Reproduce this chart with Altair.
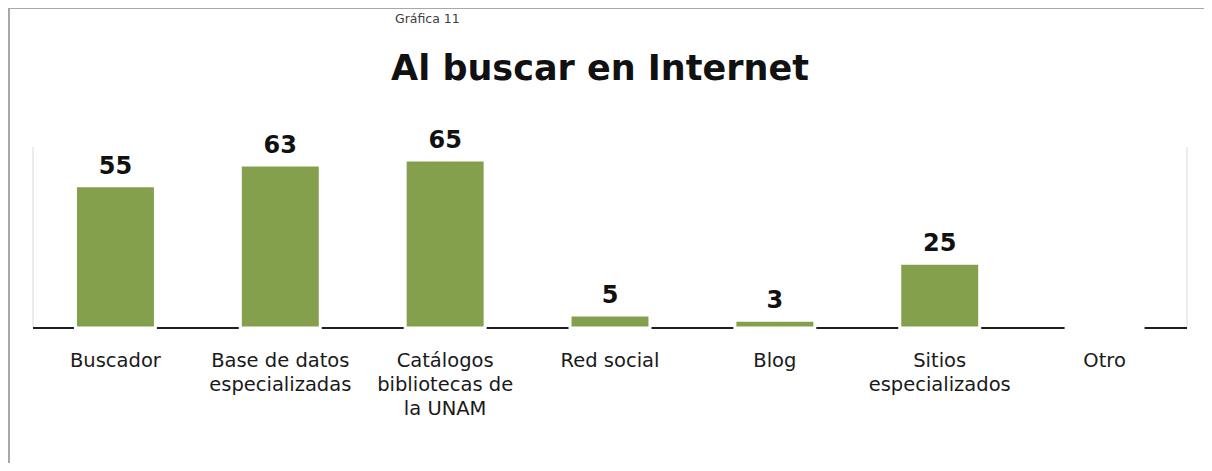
import altair as alt
import pandas as pd

categories = ["Buscador", "Base de datos\nespecializadas", "Catálogos\nbibliotecas de\nla UNAM",
              "Red social", "Blog", "Sitios\nespecializados", "Otro"]
values = [55, 63, 65, 5, 3, 25, 0]
value_labels = ["55", "63", "65", "5", "3", "25", ""]

df = pd.DataFrame({"cat": categories, "val": values, "lab": value_labels})

FONT = "DejaVu Sans"
W, H = 1154, 181

xenc = alt.X("cat:N", sort=None,
             scale=alt.Scale(paddingInner=0.515, paddingOuter=0.2575),
             axis=alt.Axis(title=None, labelAngle=0, ticks=False, domain=False,
                           labelFont=FONT, labelFontSize=19.5, labelColor="#1a1a1a",
                           labelLineHeight=24, labelPadding=23, labelBaseline="top",
                           labelExpr="split(datum.label, '\\n')"))
yenc = alt.Y("val:Q", scale=alt.Scale(domain=[0, 70]), axis=None)

base = alt.Chart(df)

one = alt.Chart(pd.DataFrame({"k": [0]}))

side_lines = alt.Chart(pd.DataFrame({"xp": [0, W]})).mark_rule(color="#d9d9d9", strokeWidth=1).encode(
    x=alt.X("xp:Q", scale=None), y=alt.value(0), y2=alt.value(H))

baseline = one.mark_rule(color="#1f1f1f", strokeWidth=2).encode(
    x=alt.value(0), x2=alt.value(W), y=alt.value(H))

bars = base.mark_bar(color="#84A04C", stroke="white", strokeWidth=3).encode(x=xenc, y=yenc)

labels = base.mark_text(font=FONT, fontSize=24, fontWeight="bold", color="#111",
                        baseline="bottom", dy=-7).encode(x=xenc, y=yenc, text="lab:N")

frame_left = one.mark_rule(color="#a8a8a8", strokeWidth=2).encode(
    x=alt.value(-24), y=alt.value(-139), y2=alt.value(H + 140))
frame_top = one.mark_rule(color="#a8a8a8", strokeWidth=2).encode(
    x=alt.value(-25), x2=alt.value(W + 17), y=alt.value(-139))

subtitle = one.mark_text(text="Gráfica 11", font=FONT, fontSize=12.5, color="#404040",
                         align="left", baseline="alphabetic").encode(
    x=alt.value(362), y=alt.value(-124))
title = one.mark_text(text="Al buscar en Internet", font=FONT, fontSize=35, fontWeight="bold",
                      color="#111", align="center", baseline="alphabetic").encode(
    x=alt.value(567), y=alt.value(-67))

chart = alt.layer(side_lines, baseline, bars, labels, frame_left, frame_top, subtitle, title).properties(
    width=W, height=H,
    padding={"left": 25, "top": 139, "right": 17, "bottom": 135},
    autosize=alt.AutoSizeParams(type="none"),
).configure_view(stroke=None)

chart.save("out.html", embed_options={"renderer": "svg", "actions": False})
